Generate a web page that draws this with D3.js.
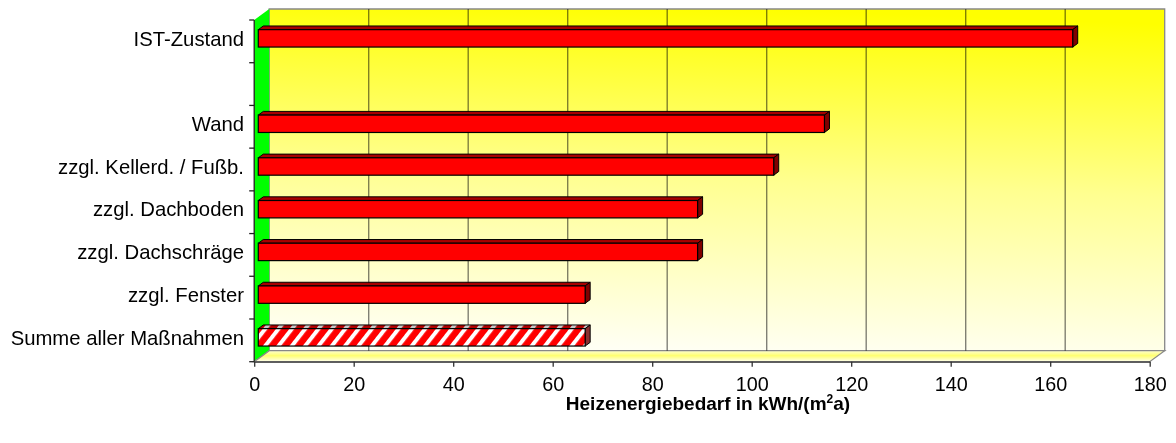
<!DOCTYPE html>
<html><head><meta charset="utf-8">
<script src="https://cdn.jsdelivr.net/npm/d3@7"></script>
<style>
body{margin:0;background:#fff;}
svg{display:block;font-family:"Liberation Sans",Arial,sans-serif;}
</style></head><body>
<svg id="chart" width="1176" height="443"></svg>
<script>
const categories = ["IST-Zustand", "", "Wand", "zzgl. Kellerd. / Fußb.", "zzgl. Dachboden", "zzgl. Dachschräge", "zzgl. Fenster", "Summe aller Maßnahmen"];
const values = [163.7, null, 113.8, 103.6, 88.3, 88.3, 65.7, 65.7];
const hatchedCategories = ["Summe aller Maßnahmen"];
const xTicks = [0, 20, 40, 60, 80, 100, 120, 140, 160, 180];
const xTitle = "Heizenergiebedarf in kWh/(m";
const xTitleSup = "2";
const xTitleEnd = "a)";

const svg = d3.select("#chart");
const x = d3.scaleLinear().domain([0, 180]).range([254.2, 1149.7]);
const y = d3.scaleBand().domain(categories).range([20, 361.7]);
const DX = 15, DY = -11;
const x0 = x(0), x1 = x(180), yTop = 20, yBot = 361.7;

const defs = svg.append("defs");
const wallG = defs.append("linearGradient").attr("id","wall").attr("x1",0.55).attr("y1",0).attr("x2",0.45).attr("y2",1);
wallG.append("stop").attr("offset",0).attr("stop-color","#ffff00");
wallG.append("stop").attr("offset",0.5).attr("stop-color","#ffff90");
wallG.append("stop").attr("offset",1).attr("stop-color","#fffff4");
const floorG = defs.append("linearGradient").attr("id","floor").attr("x1",0).attr("y1",0).attr("x2",0).attr("y2",1);
floorG.append("stop").attr("offset",0).attr("stop-color","#ffffd0");
floorG.append("stop").attr("offset",0.45).attr("stop-color","#ffff70");
floorG.append("stop").attr("offset",1).attr("stop-color","#fffff0");

const hatch = defs.append("pattern").attr("id","hatch").attr("patternUnits","userSpaceOnUse")
  .attr("width",10.5).attr("height",10).attr("patternTransform","rotate(38)");
hatch.append("rect").attr("width",10.5).attr("height",10).attr("fill","#ff0000");
hatch.append("rect").attr("x",0).attr("width",4).attr("height",10).attr("fill","#ffffff");
const hatchTop = defs.append("pattern").attr("id","hatchTop").attr("patternUnits","userSpaceOnUse")
  .attr("width",10.5).attr("height",10).attr("patternTransform","rotate(38)");
hatchTop.append("rect").attr("width",10.5).attr("height",10).attr("fill","#b00000");
hatchTop.append("rect").attr("x",0).attr("width",4).attr("height",10).attr("fill","#c8c8c8");

const pts = a => a.map(p => p.join(",")).join(" ");

// back wall
svg.append("polygon").attr("points", pts([[x0+DX,yTop+DY],[x1+DX,yTop+DY],[x1+DX,yBot+DY],[x0+DX,yBot+DY]]))
  .attr("fill","url(#wall)").attr("stroke","#888").attr("stroke-width",1.3);
// left wall
svg.append("polygon").attr("points", pts([[x0,yTop],[x0+DX,yTop+DY],[x0+DX,yBot+DY],[x0,yBot]]))
  .attr("fill","#00ff00").attr("stroke","none");
// floor
svg.append("polygon").attr("points", pts([[x0,yBot],[x0+DX,yBot+DY],[x1+DX,yBot+DY],[x1,yBot]]))
  .attr("fill","url(#floor)").attr("stroke","#888").attr("stroke-width",1.3);

// gridlines on back wall
svg.append("g").selectAll("line").data(xTicks.slice(1, -1)).join("line")
  .attr("x1", d => x(d)+DX).attr("x2", d => x(d)+DX)
  .attr("y1", yTop+DY).attr("y2", yBot+DY)
  .attr("stroke","#808080").attr("stroke-width",1.4).style("mix-blend-mode","multiply");

// y axis line and ticks at category boundaries
svg.append("line").attr("x1",x0).attr("x2",x0).attr("y1",yTop).attr("y2",yBot).attr("stroke","#222").attr("stroke-width",1.3);
const bounds = categories.map(c => y(c)).concat([yBot]);
svg.append("g").selectAll("line").data(bounds).join("line")
  .attr("x1", x0-5).attr("x2", x0).attr("y1", d => d).attr("y2", d => d)
  .attr("stroke","#222").attr("stroke-width",1.3);

// x axis
const xAxis = svg.append("g").attr("transform",`translate(0,${yBot})`)
  .call(d3.axisBottom(x).tickValues(xTicks).tickSize(5).tickPadding(10).tickSizeOuter(0));
xAxis.select(".domain").attr("stroke","#333").attr("stroke-width",1.3);
xAxis.selectAll(".tick line").attr("stroke","#333").attr("stroke-width",1.3);
xAxis.selectAll(".tick text").attr("font-size","19.8px").attr("fill","#000")
  .attr("font-family","'Liberation Sans',Arial,sans-serif");

// category labels
const z0 = 0.273, z1 = 0.607, half = 8.7;
svg.append("g").selectAll("text").data(categories).join("text")
  .attr("x", 244).attr("y", c => y(c) + y.bandwidth()/2 + DY*z0 + 7.2)
  .attr("text-anchor","end").attr("font-size","20.3px").attr("fill","#000").text(c => c);

// bars
const barData = categories.map((c,i) => ({c, v: values[i], hatched: hatchedCategories.includes(c)})).filter(d => d.v != null);
const bars = svg.append("g").selectAll("g").data(barData).join("g");
bars.each(function(d){
  const g = d3.select(this);
  const yc = y(d.c) + y.bandwidth()/2;
  const fx0 = x(0)+DX*z0, fx1 = x(d.v)+DX*z0;
  const bx0 = x(0)+DX*z1, bx1 = x(d.v)+DX*z1;
  const ft = yc+DY*z0-half, fb = yc+DY*z0+half;
  const bt = yc+DY*z1-half, bb = yc+DY*z1+half;
  g.append("polygon").attr("points", pts([[fx0,ft],[fx1,ft],[bx1,bt],[bx0,bt]]))
    .attr("fill", d.hatched ? "url(#hatchTop)" : "#a80000").attr("stroke","#000").attr("stroke-width",1).attr("stroke-linejoin","round");
  g.append("polygon").attr("points", pts([[fx1,ft],[bx1,bt],[bx1,bb],[fx1,fb]]))
    .attr("fill", d.hatched ? "#8a3030" : "#800000").attr("stroke","#000").attr("stroke-width",1).attr("stroke-linejoin","round");
  g.append("rect").attr("x",fx0).attr("y",ft).attr("width",fx1-fx0).attr("height",fb-ft)
    .attr("fill", d.hatched ? "url(#hatch)" : "#ff0000").attr("stroke","#000").attr("stroke-width",1.2);
});

// axis title
const t = svg.append("text").attr("x", 708).attr("y", 410).attr("text-anchor","middle")
  .attr("font-size","19px").attr("font-weight","bold").attr("fill","#000");
t.append("tspan").text(xTitle);
t.append("tspan").attr("font-size","12px").attr("dy",-7).text(xTitleSup);
t.append("tspan").attr("dy",7).text(xTitleEnd);
</script>
</body></html>
